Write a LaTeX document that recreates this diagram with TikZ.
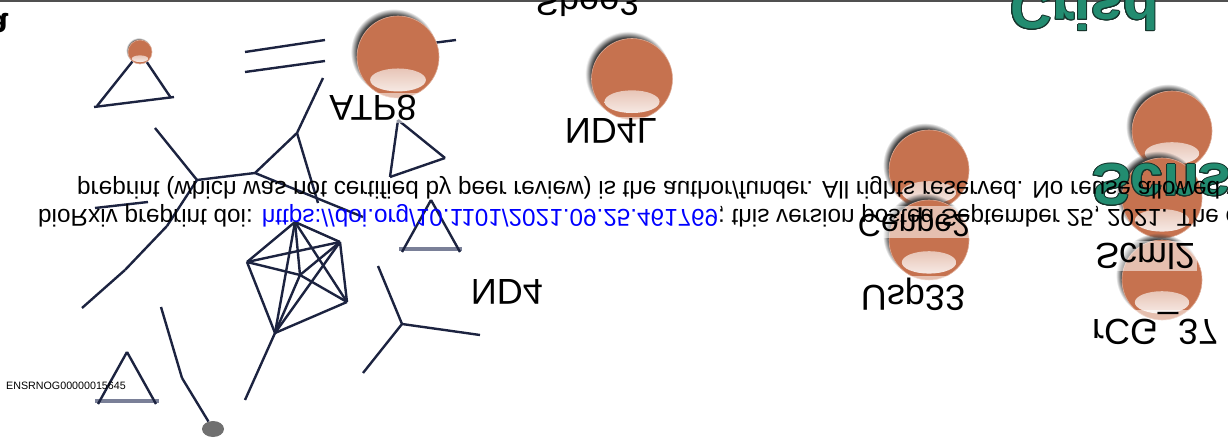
\documentclass[tikz,border=0pt]{standalone}
\usepackage{fontspec}
\setmainfont{Liberation Sans}
\usepackage{contour}
\usetikzlibrary{shadows,shapes.geometric}
\definecolor{edgec}{RGB}{28,35,64}
\definecolor{basec}{RGB}{122,128,152}
\definecolor{ballc}{RGB}{198,114,79}
\definecolor{greenc}{RGB}{34,140,112}
\definecolor{darkg}{RGB}{22,52,44}
\definecolor{dotc}{RGB}{112,112,112}
\definecolor{framec}{RGB}{80,80,80}
\newcommand{\flip}[1]{\scalebox{1}[-1]{#1}}
\contourlength{1pt}
\tikzset{
  edge/.style={draw=edgec, line width=2.4pt},
  greybase/.style={draw=basec, line width=3.5pt},
  ball/.style={circle, fill=ballc, draw=ballc!60!white, line width=0.6pt,
    inner sep=0pt, minimum size=#1,
    circular drop shadow={shadow xshift=-0.05*#1, shadow yshift=0.06*#1, shadow scale=1.05,
      opacity=1, fill=black!75},
    path picture={\shade[top color=ballc, bottom color=white!92!ballc]
      ([yshift=-0.28*#1]path picture bounding box.center)
      ellipse [x radius=0.34*#1, y radius=0.14*#1];}},
  lbl/.style={font=\fontsize{36}{36}\selectfont, inner sep=2pt,
    fill=white, fill opacity=0.55, text opacity=1},
  banner/.style={font=\fontsize{58}{58}\selectfont\bfseries, inner sep=0pt, anchor=base west},
  note/.style={font=\fontsize{24.3}{24.3}\selectfont, inner sep=0pt, anchor=base west},
  dotnode/.style={ellipse, fill=dotc, minimum width=22pt, minimum height=16pt, inner sep=0pt}
}
\begin{document}
\begin{tikzpicture}[x=1pt,y=-1pt]
  \useasboundingbox (0,0) rectangle (1228,443);
  \clip (0,0) rectangle (1228,443);
  \draw[framec, line width=2pt] (0,1) -- (1228,1);
  % points of the network
  \path
    (97,106) coordinate (t1b) (171,98) coordinate (t1c)
    (94,107) coordinate (t1l) (174,97) coordinate (t1r)
    (245,52) coordinate (p1a) (325,40) coordinate (p1b)
    (245,72) coordinate (p2a) (325,61) coordinate (p2b)
    (425,44) coordinate (a1) (456,40) coordinate (a2)
    (323,78) coordinate (m1) (297,133) coordinate (m2)
    (255,173) coordinate (m3) (197,180) coordinate (m4)
    (155,128) coordinate (m5) (318,203) coordinate (m6)
    (363,217) coordinate (m7) (167,226) coordinate (m8)
    (125,270) coordinate (m9) (82,308) coordinate (m10)
    (95,208) coordinate (l1a) (148,202) coordinate (l1b)
    (295,222) coordinate (A) (340,242) coordinate (B)
    (247,262) coordinate (C) (300,275) coordinate (D)
    (347,302) coordinate (E) (275,333) coordinate (F)
    (245,400) coordinate (G)
    (398,120) coordinate (r1) (445,158) coordinate (r2) (390,177) coordinate (r3)
    (431,200) coordinate (s1) (402,252) coordinate (s2) (460,252) coordinate (s3)
    (399,249) coordinate (s4) (462,249) coordinate (s5)
    (402,324) coordinate (c0) (378,266) coordinate (c1)
    (480,335) coordinate (c2) (363,373) coordinate (c3)
    (127,352) coordinate (b1) (98,404) coordinate (b2) (156,404) coordinate (b3)
    (95,401) coordinate (b4) (159,401) coordinate (b5)
    (161,307) coordinate (g1) (182,378) coordinate (g2);
  \node[dotnode] (gr) at (213,429) {};
  \node[ball=24pt] (sb) at (140,52) {};
  \begin{scope}[greybase]
    \draw (s4) to (s5);
    \draw (b4) to (b5);
  \end{scope}
  \begin{scope}[edge]
    \draw (sb) to (t1b);
    \draw (sb) to (t1c);
    \draw (t1l) to (t1r);
    \draw (p1a) to (p1b);
    \draw (p2a) to (p2b);
    \draw (a1) to (a2);
    \draw (m1) to (m2);
    \draw (m2) to (m3);
    \draw (m2) to (m6);
    \draw (m3) to (m4);
    \draw (m3) to (m7);
    \draw (m4) to (m5);
    \draw (m4) to (m8);
    \draw (m8) to (m9);
    \draw (m9) to (m10);
    \draw (l1a) to (l1b);
    \draw (A) to (B);
    \draw (A) to (C);
    \draw (A) to (D);
    \draw (A) to (E);
    \draw (A) to (F);
    \draw (B) to (C);
    \draw (B) to (D);
    \draw (B) to (E);
    \draw (B) to (F);
    \draw (C) to (D);
    \draw (C) to (F);
    \draw (D) to (E);
    \draw (D) to (F);
    \draw (E) to (F);
    \draw (F) to (G);
    \draw (r1) to (r2);
    \draw (r1) to (r3);
    \draw (r3) to (r2);
    \draw (s1) to (s2);
    \draw (s1) to (s3);
    \draw (c0) to (c1);
    \draw (c0) to (c2);
    \draw (c0) to (c3);
    \draw (b1) to (b2);
    \draw (b1) to (b3);
    \draw (g1) to (g2);
    \draw (g2) to (gr);
  \end{scope}
  % genes
  \node[ball=82pt] (atp) at (398,57) {};
  \node[ball=81pt] (ndl) at (632,79) {};
  \node[ball=80pt] (tr) at (1172,131) {};
  \node[ball=80pt] (cen) at (929,170) {};
  \node[ball=80pt] (scm) at (1162,198) {};
  \node[ball=80pt] (usp) at (929,240) {};
  \node[ball=80pt] (rcg) at (1162,280) {};
  \node[lbl] (atplbl) at (373,108) {\flip{ATP8}};
  \node[lbl] (ndllbl) at (611,131) {\flip{ND4L}};
  \node[lbl] (ndlbl) at (507,292) {\flip{ND4}};
  \node[lbl, font=\fontsize{32}{32}\selectfont] (cenlbl) at (914,222) {\flip{Cenpe2}};
  \node[lbl] (usplbl) at (913,294) {\flip{Usp33}};
  \node[lbl] (scmlbl) at (1145,256) {\flip{Scml2}};
  \node[lbl, anchor=west] (rcglbl) at (1090,328) {\flip{rCG\_37}};
  \node[lbl, fill=none, anchor=base west, inner sep=0pt] (sbelbl) at (535,-9) {\flip{Sbee3}};
  \node[font=\fontsize{10.7}{10.7}\selectfont, inner sep=0pt] (enslbl) at (66,386) {ENSRNOG00000015645};
  % headings
  \node[font=\fontsize{36}{36}\selectfont\bfseries, anchor=base east, inner sep=0pt] (panel) at (9,14) {\flip{a}};
  \node[banner] (head1) at (1010,-11) {\flip{\contour{darkg}{\textcolor{greenc}{Crisd}}}};
  \node[banner] (head2) at (1092,165) {\flip{\contour{darkg}{\textcolor{greenc}{Scns}}}};
  % preprint notice
  \node[note] (note1) at (77,182) {\flip{preprint (which was not certified by peer review) is the author/funder. All rights reserved. No reuse allowed without permission.}};
  \node[note] (note2) at (38,210) {\flip{bioRxiv preprint doi: \textcolor{blue}{https://doi.org/10.1101/2021.09.25.461769}; this version posted September 25, 2021. The copyright holder for this}};
\end{tikzpicture}
\end{document}
